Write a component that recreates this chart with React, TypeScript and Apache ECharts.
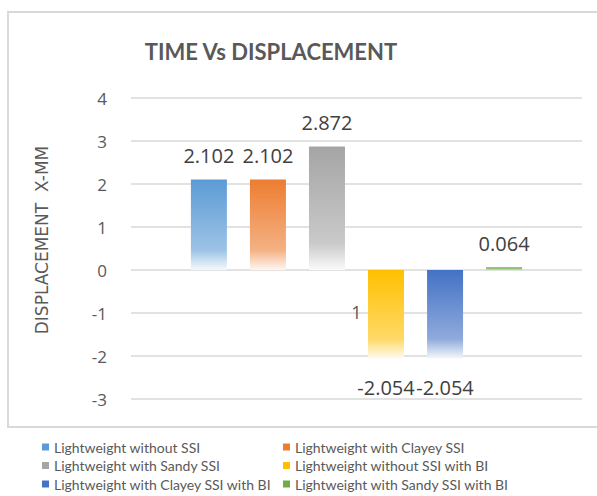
import React, { useEffect, useRef } from "react";
import * as echarts from "echarts";

const titleText = "TIME Vs DISPLACEMENT";
const yAxisName = "DISPLACEMENT  X-MM";
const categories = ["1"];
const seriesNames = [
  "Lightweight without SSI",
  "Lightweight with Clayey SSI",
  "Lightweight with Sandy SSI",
  "Lightweight without SSI with BI",
  "Lightweight with Clayey SSI with BI",
  "Lightweight with Sandy SSI with BI",
];
const seriesValues = [2.102, 2.102, 2.872, -2.054, -2.054, 0.064];
const yMin = -3;
const yMax = 4;
const yInterval = 1;

const palette = ["#5B9BD5", "#ED7D31", "#A5A5A5", "#FFC000", "#4472C4", "#70AD47"];

function mix(hex: string, t: number) {
  const n = parseInt(hex.slice(1), 16);
  const r = (n >> 16) & 255, g = (n >> 8) & 255, b = n & 255;
  const m = (c: number) => Math.round(c + (255 - c) * t);
  return `rgb(${m(r)},${m(g)},${m(b)})`;
}

export default function App() {
  const ref = useRef<HTMLDivElement>(null);
  useEffect(() => {
    if (!ref.current) return;
    const chart = echarts.init(ref.current, null, { renderer: "svg" });
    const font = "'Open Sans', sans-serif";
    const series = seriesNames.map((name, i) => ({
      type: "bar",
      name,
      data: [seriesValues[i]],
      barWidth: 36,
      barGap: "64%",
      itemStyle: {
        color: new echarts.graphic.LinearGradient(0, 0, 0, 1, [
          { offset: 0, color: palette[i] },
          { offset: 0.78, color: mix(palette[i], 0.4) },
          { offset: 1, color: mix(palette[i], 0.94) },
        ]),
      },
      label: {
        show: true,
        position: seriesValues[i] >= 0 ? "top" : "bottom",
        distance: seriesValues[i] >= 0 ? 14 : 19,
        fontSize: 20,
        fontFamily: font,
        color: "#404040",
      },
    }));
    const legendCommon = {
      orient: "vertical",
      itemWidth: 7,
      itemHeight: 7,
      itemGap: 4.5,
      icon: "rect",
      textStyle: { fontSize: 14, fontFamily: "Lato, sans-serif", color: "#595959", lineHeight: 14 },
    };
    chart.setOption({
      animation: false,
      backgroundColor: "#ffffff",
      graphic: [
        {
          type: "rect",
          silent: true,
          z: -10,
          shape: { x: 8, y: 12, width: 620, height: 415 },
          style: { fill: "none", stroke: "#D9D9D9", lineWidth: 2 },
        },
        {
          type: "text",
          x: 271,
          y: 51,
          style: {
            text: titleText,
            fill: "#595959",
            font: "bold 22px Lato, sans-serif",
            textAlign: "center",
            textVerticalAlign: "middle",
          },
        },
      ],
      grid: { left: 131, right: 15, top: 98, bottom: 97 },
      legend: [
        {
          ...legendCommon,
          left: 37,
          top: 435,
          data: [0, 2, 4].map((i) => ({ name: seriesNames[i], itemStyle: { color: palette[i] } })),
        },
        {
          ...legendCommon,
          left: 278,
          top: 435,
          data: [1, 3, 5].map((i) => ({ name: seriesNames[i], itemStyle: { color: palette[i] } })),
        },
      ],
      xAxis: {
        type: "category",
        data: categories,
        axisLine: { show: false, onZero: false },
        axisTick: { show: false },
        axisLabel: { margin: -96, fontSize: 18, fontFamily: font, color: "#595959" },
      },
      yAxis: {
        type: "value",
        min: yMin,
        max: yMax,
        interval: yInterval,
        name: yAxisName,
        nameLocation: "middle",
        nameGap: 81,
        nameTextStyle: {
          fontSize: 17,
          fontFamily: "'DejaVu Sans', sans-serif",
          color: "#595959",
          padding: [0, 0, 0, 17],
        },
        axisLine: { show: false },
        axisTick: { show: false },
        axisLabel: { margin: 24, fontSize: 17, fontFamily: font, color: "#595959" },
        splitLine: { lineStyle: { color: "#D9D9D9", width: 1.5 } },
      },
      series,
    });
    return () => chart.dispose();
  }, []);
  return (
    <div
      ref={ref}
      style={{ position: "fixed", left: 0, top: 0, width: 597, height: 496, background: "#fff" }}
    />
  );
}
